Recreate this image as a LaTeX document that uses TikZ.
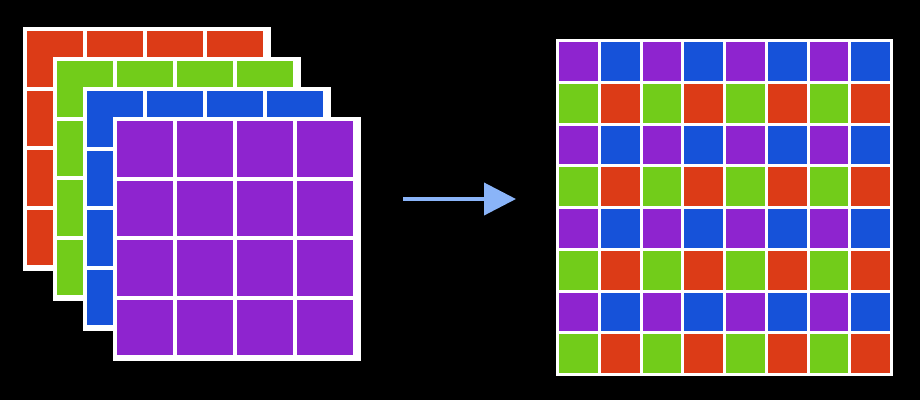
\documentclass[tikz,border=0pt]{standalone}
\usetikzlibrary{arrows.meta}
\definecolor{cr}{HTML}{DC3B17}
\definecolor{cg}{HTML}{72CC1A}
\definecolor{cb}{HTML}{1652D9}
\definecolor{cp}{HTML}{8E24CF}
\definecolor{arr}{HTML}{8AB4F8}
\begin{document}
\begin{tikzpicture}[x=1pt,y=-1pt]
\fill[black] (0,0) rectangle (920,400);
% stacked layers
\foreach \k/\c in {0/cr,1/cg,2/cb,3/cp}{
  \pgfmathsetmacro{\ox}{23+30*\k}
  \pgfmathsetmacro{\oy}{27+30*\k}
  \fill[white] (\ox,\oy) rectangle ++(248,244);
  \foreach \i in {0,...,3}{\foreach \j in {0,...,3}{
    \fill[\c] (\ox+4+\i*60,\oy+4+\j*59.5) rectangle ++(56,55.5);
  }}
}
% right grid
\fill[white] (556,39) rectangle (893,376);
\foreach \j in {0,...,7}{\foreach \i in {0,...,7}{
  \pgfmathparse{int(mod(\j,2))}\let\row\pgfmathresult
  \pgfmathparse{int(mod(\i,2))}\let\col\pgfmathresult
  \ifnum\row=0 \ifnum\col=0 \def\cc{cp}\else\def\cc{cb}\fi
  \else \ifnum\col=0 \def\cc{cg}\else\def\cc{cr}\fi\fi
  \fill[\cc] (559+\i*41.75,42+\j*41.75) rectangle ++(38.75,38.75);
}}
\coordinate (a) at (403,199);
\coordinate (b) at (516,199);
\draw[arr,line width=4pt,-{Triangle[length=32pt,width=32pt]}] (a) -- (b);
\end{tikzpicture}
\end{document}
